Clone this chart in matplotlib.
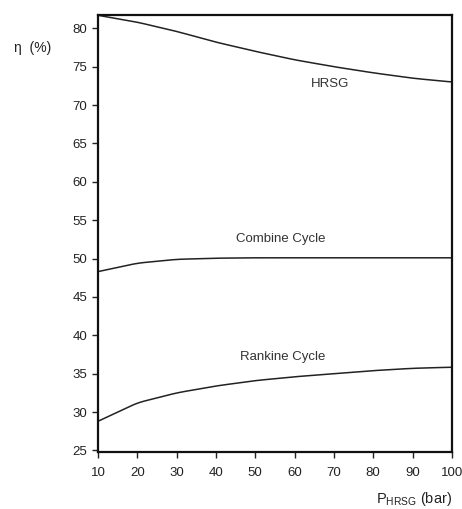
import matplotlib
matplotlib.use('Agg')
import matplotlib.pyplot as plt
import numpy as np

plt.rcParams['font.family'] = ['Liberation Sans', 'DejaVu Sans']

p_bar = [10, 20, 30, 40, 50, 60, 70, 80, 90, 100]
eta_hrsg = [81.7, 80.8, 79.6, 78.2, 77.0, 75.9, 75.0, 74.2, 73.5, 73.0]
eta_combine = [48.3, 49.4, 49.9, 50.05, 50.1, 50.1, 50.1, 50.1, 50.1, 50.1]
eta_rankine = [28.8, 31.2, 32.5, 33.4, 34.1, 34.6, 35.0, 35.4, 35.7, 35.85]

fig = plt.figure(figsize=(4.62, 5.09), dpi=100)
ax = fig.add_axes([0.212, 0.112, 0.766, 0.858])

for eta in (eta_hrsg, eta_combine, eta_rankine):
    xs = np.linspace(10, 100, 200)
    ys = np.interp(xs, p_bar, eta)
    # light smoothing of the polyline
    k = np.ones(9) / 9
    ys_s = np.convolve(np.pad(ys, 4, mode='edge'), k, mode='valid')
    ys_s[:3] = ys[:3]
    ax.plot(xs, ys_s, color='#222222', lw=1.1)

ax.text(69, 72.8, 'HRSG', ha='center', va='center', fontsize=9.5, color='#333333')
ax.text(56.5, 52.6, 'Combine Cycle', ha='center', va='center', fontsize=9.5, color='#333333')
ax.text(57, 37.2, 'Rankine Cycle', ha='center', va='center', fontsize=9.5, color='#333333')

ax.set_xlim(10, 100)
ax.set_ylim(24.8, 81.7)
ax.set_xticks(p_bar)
ax.set_yticks(np.arange(25, 81, 5))
ax.tick_params(direction='out', length=4, width=1, labelsize=9.5, colors='#222222')
ax.tick_params(axis='x', pad=7)
for s in ax.spines.values():
    s.set_linewidth(1.6)
    s.set_color('#111111')

fig.text(0.07, 0.905, 'η  (%)', fontsize=10, ha='center', va='center', color='#222222')
fig.text(0.978, 0.02, r'P$_{\mathregular{HRSG}}$ (bar)', fontsize=10.5, ha='right', va='center', color='#222222')

fig.savefig('out.png', dpi=100)
